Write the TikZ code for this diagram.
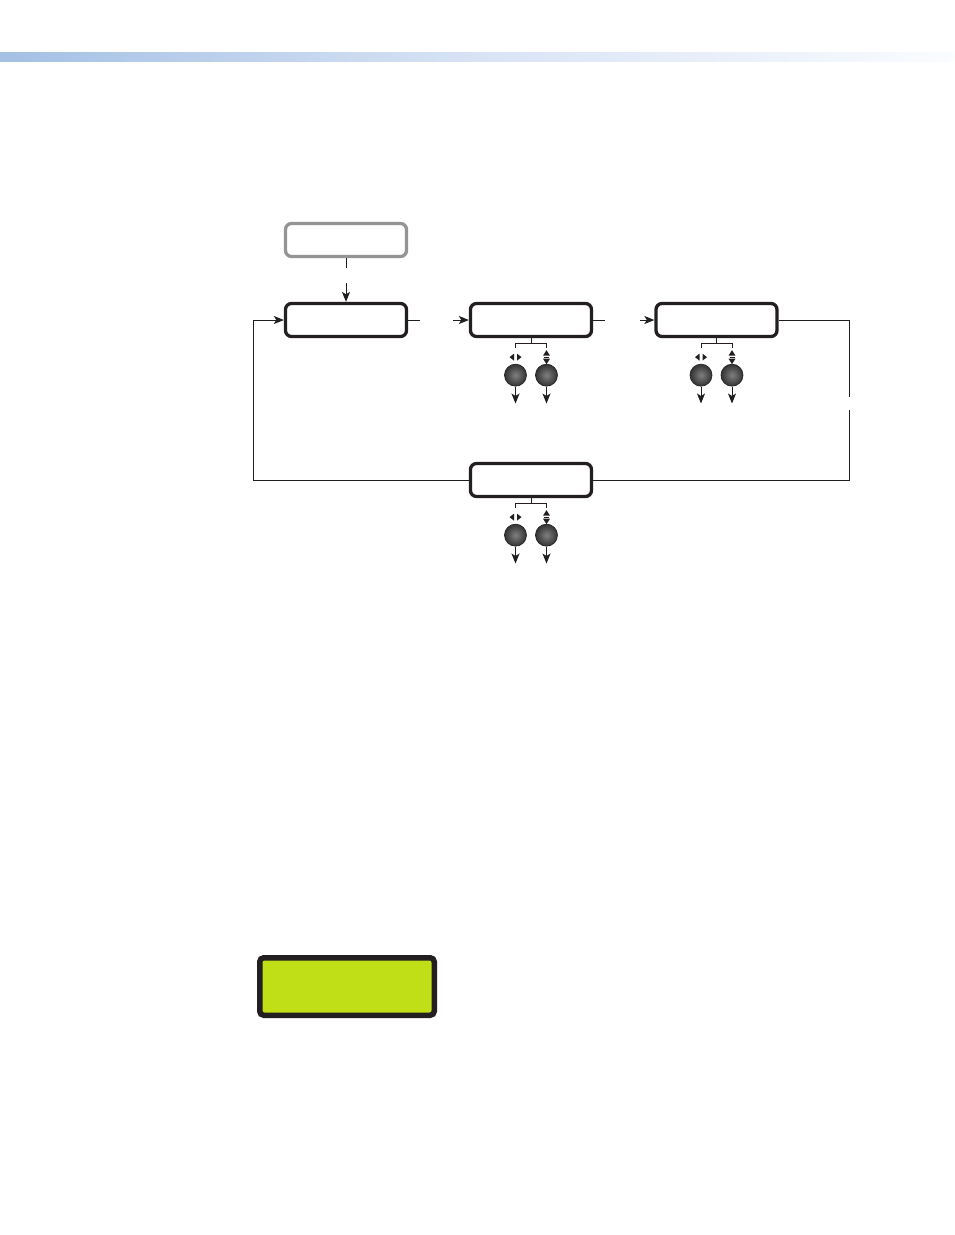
\documentclass[tikz,border=0pt]{standalone}
\usetikzlibrary{arrows.meta,calc}
\definecolor{bandL}{HTML}{A4C0E4}
\definecolor{bandM}{HTML}{D8E3F5}
\definecolor{bandR}{HTML}{FAFCFF}
\definecolor{lcdgreen}{HTML}{C0DF16}
\definecolor{edge}{HTML}{231F20}
\tikzset{
  menubox/.style={draw=edge, line width=3.3pt, rounded corners=6pt, minimum width=121pt, minimum height=33pt, inner sep=0pt, fill=white},
  graybox/.style={menubox, draw=black!42},
  lcdbox/.style={draw=edge, line width=5.5pt, rounded corners=4pt, fill=lcdgreen, minimum width=174.5pt, minimum height=57.5pt, inner sep=0pt},
  knob/.style={circle, minimum size=22pt, inner sep=0pt, draw=black!85, line width=0.7pt, inner color=black!50, outer color=black!80},
  conn/.style={draw=black!88, line width=1pt},
  arr/.style={conn, -{Stealth[length=10pt,width=8pt,inset=2.5pt]}},
  bracket/.style={draw=edge, line width=1pt},
  tri/.style={fill=edge, draw=none}
}
\begin{document}
\begin{tikzpicture}[x=1pt,y=-1pt]
\useasboundingbox (0,0) rectangle (954,1235);
\fill[white] (0,0) rectangle (954,1235);
% header band
\shade[left color=bandL, right color=bandR, middle color=bandM] (0,52) rectangle (954,61);

% boxes
\node[graybox] (G) at (346,240) {};
\node[menubox] (A) at (346,320) {};
\node[menubox] (B) at (531,320) {};
\node[menubox] (C) at (716.5,320) {};
\node[menubox] (D) at (531,480) {};
\node[lcdbox]  (L) at (347,986.5) {};

% connector end points
\coordinate (g1) at (346,268);
\coordinate (g2) at (346,283);
\coordinate (a1) at (420,320);
\coordinate (b0) at (453,320);
\coordinate (b1) at (605,320);
\coordinate (c0) at (640,320);
\coordinate (c1) at (849,397);
\coordinate (c2) at (849,410);
\coordinate (d1) at (253,320);

% connectors
\draw[conn] (G.south) -- (g1);
\draw[arr] (g2) -- (A.north);
\draw[conn] (A.east) -- (a1);
\draw[arr] (b0) -- (B.west);
\draw[conn] (B.east) -- (b1);
\draw[arr] (c0) -- (C.west);
\draw[conn] (C.east) -| (c1);
\draw[conn] (c2) |- (D.east);
\draw[arr] (D.west) -| (d1) -- (A.west);

% knob groups
\foreach \b in {B,C,D}{
  \path (\b.south) ++(-15.5,37) node[knob] (\b-kl) {};
  \path (\b.south) ++(15.5,37) node[knob] (\b-kr) {};
  \coordinate (\b-m) at ($(\b.south)+(0,5)$);
  \draw[bracket] (\b.south) -- (\b-m);
  \draw[bracket] ($(\b-kl)+(0,-27)$) -- ($(\b-kl)+(0,-32)$) -- ($(\b-kr)+(0,-32)$) -- ($(\b-kr)+(0,-27)$);
  % left/right symbol
  \fill[tri] ($(\b-kl)+(-6,-18)$) -- ($(\b-kl)+(-1.5,-21.5)$) -- ($(\b-kl)+(-1.5,-14.5)$) -- cycle;
  \fill[tri] ($(\b-kl)+(6,-18)$) -- ($(\b-kl)+(1.5,-21.5)$) -- ($(\b-kl)+(1.5,-14.5)$) -- cycle;
  % up/down symbol
  \fill[tri] ($(\b-kr)+(0,-25)$) -- ($(\b-kr)+(-3.5,-19.5)$) -- ($(\b-kr)+(3.5,-19.5)$) -- cycle;
  \fill[tri] ($(\b-kr)+(0,-11)$) -- ($(\b-kr)+(-3.5,-16.5)$) -- ($(\b-kr)+(3.5,-16.5)$) -- cycle;
  \draw[edge, line width=0.6pt] ($(\b-kr)+(-2.5,-18)$) -- ($(\b-kr)+(2.5,-18)$);
  % arrows out
  \coordinate (\b-al) at ($(\b-kl.south)+(0,17)$);
  \coordinate (\b-ar) at ($(\b-kr.south)+(0,17)$);
  \draw[arr] (\b-kl.south) -- (\b-al);
  \draw[arr] (\b-kr.south) -- (\b-ar);
}
\end{tikzpicture}
\end{document}
